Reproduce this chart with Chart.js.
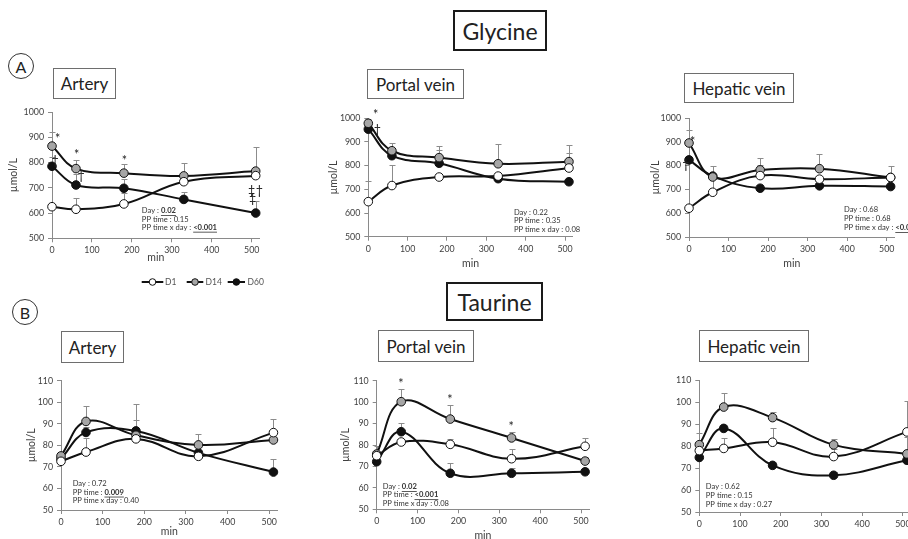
<!DOCTYPE html>
<html>
<head>
<meta charset="utf-8">
<script src="https://cdn.jsdelivr.net/npm/chart.js@4"></script>
<style>
  body { margin:0; width:908px; height:539px; overflow:hidden; background:#fff; position:relative; font-family:Lato, "Open Sans", sans-serif; color:#222; }
  .box { position:absolute; box-sizing:border-box; border:1px solid #6e6e6e; display:flex; align-items:center; justify-content:center; font-size:17px; background:#fff; }
  .big { border:2.5px solid #1a1a1a; font-size:23px; }
  .circ { position:absolute; box-sizing:border-box; width:26px; height:26px; border:1px solid #333; border-radius:50%; display:flex; align-items:center; justify-content:center; font-size:16px; }
  canvas { position:absolute; }
</style>
</head>
<body>
<div class="box big" style="left:453px;top:10px;width:94px;height:41px">Glycine</div>
<div class="circ" style="left:8px;top:53px">A</div>
<div class="box" style="left:53px;top:68px;width:63px;height:31px">Artery</div>
<div class="box" style="left:367px;top:69px;width:97px;height:30px">Portal vein</div>
<div class="box" style="left:684px;top:73px;width:110px;height:30px">Hepatic vein</div>

<div class="box big" style="left:446px;top:282px;width:97px;height:39px">Taurine</div>
<div class="circ" style="left:12px;top:299px">B</div>
<div class="box" style="left:61px;top:331px;width:63px;height:32px">Artery</div>
<div class="box" style="left:378px;top:330px;width:96px;height:32px">Portal vein</div>
<div class="box" style="left:699px;top:330px;width:110px;height:32px">Hepatic vein</div>

<script>
'use strict';

// sampling times (min) shared by every panel
let times = [0, 60, 180, 330, 510];
let seriesNames = ['D1', 'D14', 'D60'];

// Glycine - artery
let glyArtD1 = [625, 615, 636, 724, 748];
let glyArtD14 = [865, 776, 758, 747, 766];
let glyArtD60 = [785, 711, 698, 654, 600];
let glyArtD1Err = [null, 43, 42, null, null];
let glyArtD14Err = [55, 35, 35, 53, 94];
let glyArtD60Err = [35, 45, 35, 31, 49];

// Glycine - portal vein
let glyPorD1 = [648, 716, 752, 756, 790];
let glyPorD14 = [979, 863, 834, 808, 817];
let glyPorD60 = [954, 842, 810, 745, 732];
let glyPorD1Err = [87, 85, null, null, 62];
let glyPorD14Err = [20, 31, 50, 85, 70];
let glyPorD60Err = [null, null, 56, null, null];

// Glycine - hepatic vein
let glyHepD1 = [621, 688, 758, 743, 750];
let glyHepD14 = [895, 752, 782, 787, 750];
let glyHepD60 = [824, 756, 705, 715, 712];
let glyHepD1Err = [null, 56, 45, null, null];
let glyHepD14Err = [56, 46, 49, 61, 50];
let glyHepD60Err = [null, null, null, null, null];

// Taurine - artery
let tauArtD1 = [72.6, 76.9, 83.0, 74.9, 85.9];
let tauArtD14 = [75.1, 91.1, 84.7, 80.2, 82.5];
let tauArtD60 = [73.8, 86.0, 86.7, 76.5, 67.6];
let tauArtD1Err = [null, 6.5, null, null, 6.3];
let tauArtD14Err = [null, 7, 7, 5, null];
let tauArtD60Err = [null, 2.7, 12.5, null, 6];

// Taurine - portal vein
let tauPorD1 = [75.0, 81.4, 80.3, 73.6, 79.4];
let tauPorD14 = [75.8, 100.2, 92.1, 83.3, 72.5];
let tauPorD60 = [72.2, 86.2, 66.8, 66.8, 67.5];
let tauPorD1Err = [null, null, 2.3, 4.4, 4];
let tauPorD14Err = [3.7, 6, 6.4, 2.6, 1.7];
let tauPorD60Err = [null, 4, 4.6, 2.6, 1.9];

// Taurine - hepatic vein
let tauHepD1 = [77.9, 78.9, 81.7, 75.2, 86.4];
let tauHepD14 = [80.6, 97.7, 92.9, 80.5, 76.4];
let tauHepD60 = [74.8, 88.0, 71.2, 66.7, 73.5];
let tauHepD1Err = [null, 4.6, 6.3, 3.3, 14];
let tauHepD14Err = [5.5, 6.2, 2.7, 2.5, 7.6];
let tauHepD60Err = [null, null, null, 1.4, 4.7];

// axis ranges / ticks
let glyRange = [500, 1000, 100];
let tauRange = [50, 110, 10];
let xRange = [0, 520, 100];

// significance symbols: [symbol, min, value]
let glyArtMarks = [['*', 14, 900], ['†', 8, 813], ['*', 62, 836], ['†', 73, 755], ['*', 181, 813], ['‡', 500, 694], ['†', 519, 694], ['‡', 502, 665]];
let glyPorMarks = [['*', 19, 1024], ['†', 23, 958]];
let glyHepMarks = [['*', 9, 909], ['†', -8, 810]];
let tauPorMarks = [['*', 59, 109.5], ['*', 179, 101.8], ['*', 329, 89.3]];

// statistics text: [label, p value, significant]
let glyArtStats = [['Day : ', '0.02', true], ['PP time : ', '0.15', false], ['PP time x day : ', '<0.001', true]];
let glyPorStats = [['Day : ', '0.22', false], ['PP time : ', '0.35', false], ['PP time x day : ', '0.08', false]];
let glyHepStats = [['Day : ', '0.68', false], ['PP time : ', '0.68', false], ['PP time x day : ', '<0.001', true]];
let tauArtStats = [['Day : ', '0.72', false], ['PP time : ', '0.009', true], ['PP time x day : ', '0.40', false]];
let tauPorStats = [['Day : ', '0.02', true], ['PP time : ', '<0.001', true], ['PP time x day : ', '0.08', false]];
let tauHepStats = [['Day : ', '0.62', false], ['PP time : ', '0.15', false], ['PP time x day : ', '0.27', false]];

const FONT = 'Lato, "Open Sans", sans-serif';
const fills = ['#ffffff', '#a6a6a6', '#111111'];

function makeSeries(vals, errs, idx){
  return {
    label: seriesNames[idx],
    data: times.map((t, i) => ({x: t, y: vals[i]})),
    errors: errs,
    borderColor: '#111',
    borderWidth: 2,
    pointBackgroundColor: fills[idx],
    pointBorderColor: '#111',
    pointBorderWidth: 1,
    pointRadius: 4.3,
    tension: 0.4,
    fill: false,
    clip: false
  };
}

// error bars drawn behind the lines
const errorBars = {
  id: 'errorBars',
  beforeDatasetsDraw(chart){
    const {ctx, scales: {x, y}} = chart;
    ctx.save();
    ctx.strokeStyle = '#8c8c8c';
    ctx.lineWidth = 1;
    chart.data.datasets.forEach(ds => {
      ds.errors.forEach((e, i) => {
        if (e == null) return;
        const px = Math.round(x.getPixelForValue(ds.data[i].x)) + 0.5;
        const py0 = y.getPixelForValue(ds.data[i].y);
        const py1 = Math.round(y.getPixelForValue(ds.data[i].y + e)) + 0.5;
        ctx.beginPath();
        ctx.moveTo(px, py0);
        ctx.lineTo(px, py1);
        ctx.moveTo(px - 3, py1);
        ctx.lineTo(px + 3, py1);
        ctx.stroke();
      });
    });
    ctx.restore();
  }
};

function notes(marks, stats, statPos, legendAt, off){
  return {
    id: 'notes',
    afterDatasetsDraw(chart){
      const {ctx, scales: {x, y}} = chart;
      ctx.save();
      ctx.fillStyle = '#222';
      ctx.textAlign = 'center';
      ctx.textBaseline = 'middle';
      ctx.font = '12.5px ' + FONT;
      marks.forEach(m => ctx.fillText(m[0], x.getPixelForValue(m[1]), y.getPixelForValue(m[2]) + 2));

      ctx.textAlign = 'left';
      ctx.fillStyle = '#333';
      stats.forEach((s, i) => {
        let px = x.getPixelForValue(statPos[0]);
        const py = y.getPixelForValue(statPos[1][i]);
        ctx.font = '7.6px ' + FONT;
        ctx.fillText(s[0], px, py);
        px += ctx.measureText(s[0]).width;
        ctx.font = (s[2] ? 'bold ' : '') + '7.6px ' + FONT;
        ctx.fillText(s[1], px, py);
        if (s[2]){
          const w = ctx.measureText(s[1]).width;
          ctx.fillRect(px, py + 4.3, w, 0.8);
        }
      });

      if (legendAt){
        ctx.font = '8.5px ' + FONT;
        ctx.fillStyle = '#555';
        legendAt.forEach((lp, i) => {
          const ly = lp[3] - off[1];
          ctx.strokeStyle = '#111';
          ctx.lineWidth = 2;
          ctx.beginPath();
          ctx.moveTo(lp[0] - off[0], ly);
          ctx.lineTo(lp[1] - off[0], ly);
          ctx.stroke();
          ctx.beginPath();
          ctx.arc((lp[0] + lp[1]) / 2 - off[0], ly, 3.3, 0, Math.PI * 2);
          ctx.fillStyle = fills[i];
          ctx.fill();
          ctx.lineWidth = 1;
          ctx.stroke();
          ctx.fillStyle = '#555';
          ctx.fillText(seriesNames[i], lp[2] - off[0], ly);
        });
      }
      ctx.restore();
    }
  };
}

function panel(p){
  const cy = Math.floor(p.t) - 16;
  const w = Math.ceil(p.r + 14 - p.cx);
  const h = Math.ceil(p.bottomTo - cy);
  const padTop = p.t - cy;
  const padRight = p.cx + w - p.r;
  const xH = p.minY - p.b + 6.3;
  const padBottom = h - padTop - (p.b - p.t) - xH;

  const c = document.createElement('canvas');
  c.width = w; c.height = h;
  c.style.left = p.cx + 'px';
  c.style.top = cy + 'px';
  c.style.width = w + 'px';
  c.style.height = h + 'px';
  document.body.appendChild(c);

  const axisGrid = {display: true, drawOnChartArea: false, drawTicks: true, tickLength: 4, color: '#8a8a8a', lineWidth: 1};
  const axisBorder = {display: true, color: '#8a8a8a', width: 1};

  new Chart(c, {
    type: 'line',
    data: {datasets: [
      makeSeries(p.d1, p.e1, 0),
      makeSeries(p.d14, p.e14, 1),
      makeSeries(p.d60, p.e60, 2)
    ]},
    options: {
      responsive: false,
      animation: false,
      layout: {padding: {left: 0, top: padTop, right: padRight, bottom: padBottom}},
      plugins: {legend: {display: false}, tooltip: {enabled: false}},
      scales: {
        x: {
          type: 'linear', min: xRange[0], max: xRange[1],
          ticks: {stepSize: xRange[2], includeBounds: false, padding: 3, color: '#404040', font: {family: FONT, size: 8.8}, callback: v => String(v)},
          grid: axisGrid, border: axisBorder,
          title: {display: true, text: 'min', color: '#404040', padding: 0, font: {family: FONT, size: 10.5}},
          afterFit: s => { s.height = xH; }
        },
        y: {
          min: p.range[0], max: p.range[1],
          ticks: {stepSize: p.range[2], padding: 4, color: '#404040', font: {family: FONT, size: 8.8}, callback: v => String(v)},
          grid: axisGrid, border: axisBorder,
          title: {display: p.yTitle, text: 'µmol/L', color: '#404040', padding: 0, font: {family: FONT, size: 10.5}},
          afterFit: s => { s.width = p.l - p.cx; }
        }
      }
    },
    plugins: [errorBars, notes(p.marks, p.stats, p.statPos, p.legend, [p.cx, cy])]
  });
}

let legendPos = [[141.7, 163.3, 165, 282], [186.7, 203.3, 205.5, 282], [227.7, 245, 247.5, 282]];

panel({l: 52, t: 112, r: 259.7, b: 238.3, cx: 7, minY: 258, bottomTo: 296, yTitle: true, range: glyRange,
  d1: glyArtD1, d14: glyArtD14, d60: glyArtD60, e1: glyArtD1Err, e14: glyArtD14Err, e60: glyArtD60Err,
  marks: glyArtMarks, stats: glyArtStats, statPos: [225, [609, 576, 543]], legend: legendPos});
panel({l: 368.3, t: 118.3, r: 572.9, b: 236.7, cx: 327, minY: 264, bottomTo: 276, yTitle: true, range: glyRange,
  d1: glyPorD1, d14: glyPorD14, d60: glyPorD60, e1: glyPorD1Err, e14: glyPorD14Err, e60: glyPorD60Err,
  marks: glyPorMarks, stats: glyPorStats, statPos: [370, [603, 568, 532]]});
panel({l: 689, t: 118, r: 894.6, b: 237, cx: 649, minY: 264, bottomTo: 276, yTitle: true, range: glyRange,
  d1: glyHepD1, d14: glyHepD14, d60: glyHepD60, e1: glyHepD1Err, e14: glyHepD14Err, e60: glyHepD60Err,
  marks: glyHepMarks, stats: glyHepStats, statPos: [392, [614, 576, 539]]});
panel({l: 61, t: 380.7, r: 277.6, b: 510, cx: 25, minY: 532, bottomTo: 545, yTitle: true, range: tauRange,
  d1: tauArtD1, d14: tauArtD14, d60: tauArtD60, e1: tauArtD1Err, e14: tauArtD14Err, e60: tauArtD60Err,
  marks: [], stats: tauArtStats, statPos: [28, [62.1, 58.2, 54.4]]});
panel({l: 376.7, t: 380.7, r: 589.2, b: 509.3, cx: 339, minY: 536, bottomTo: 550, yTitle: true, range: tauRange,
  d1: tauPorD1, d14: tauPorD14, d60: tauPorD60, e1: tauPorD1Err, e14: tauPorD14Err, e60: tauPorD60Err,
  marks: tauPorMarks, stats: tauPorStats, statPos: [14.7, [60.5, 56.7, 52.8]]});
panel({l: 699.3, t: 380, r: 911, b: 512, cx: 660, minY: 548, bottomTo: 560, yTitle: false, range: tauRange,
  d1: tauHepD1, d14: tauHepD14, d60: tauHepD60, e1: tauHepD1Err, e14: tauHepD14Err, e60: tauHepD60Err,
  marks: [], stats: tauHepStats, statPos: [16, [61.5, 57.6, 53.6]]});
</script>
</body>
</html>
